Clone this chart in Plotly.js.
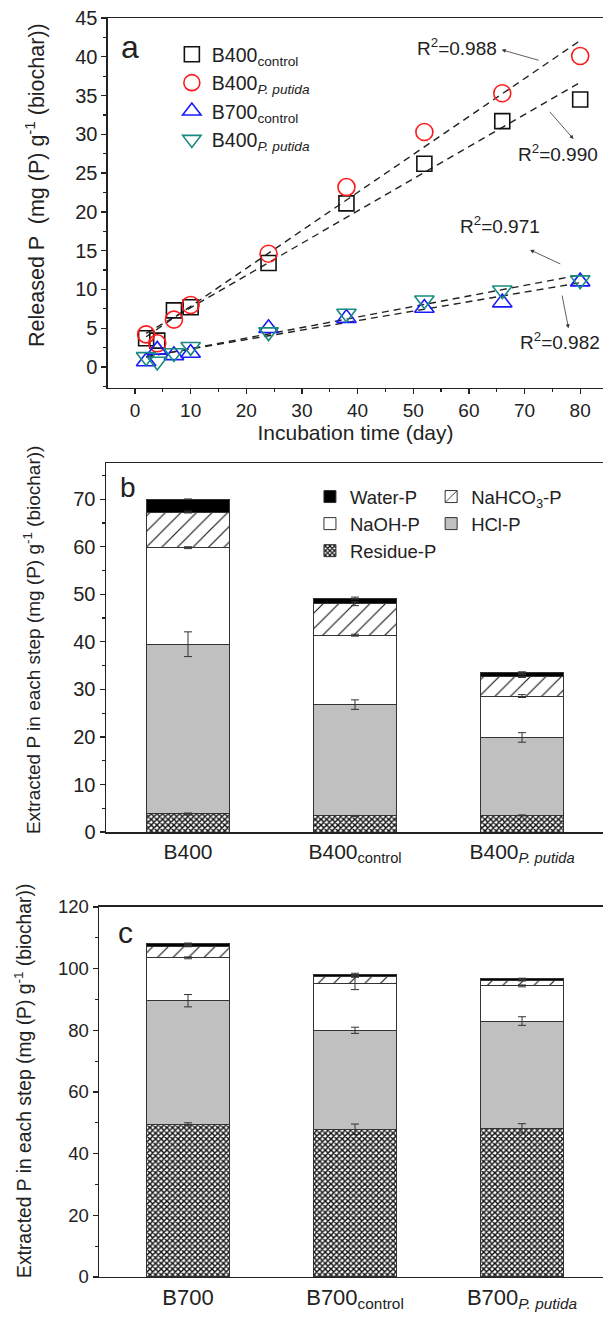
<!DOCTYPE html>
<html><head><meta charset="utf-8">
<script src="https://cdn.plot.ly/plotly-3.0.1.min.js"></script>
<style>html,body{margin:0;padding:0;background:#fff}</style>
</head><body><div id="chart" style="width:603px;height:1326px"></div>
<script>
// ---------- Panel a data ----------
const days = [2, 4, 7, 10, 24, 38, 52, 66, 80];
const b400Control = [3.7, 3.4, 7.3, 7.7, 13.4, 21.1, 26.2, 31.7, 34.5];
const b400Putida  = [4.2, 3.05, 6.1, 8.0, 14.6, 23.2, 30.3, 35.3, 40.1];
const b700Control = [0.7, 2.2, 1.5, 1.8, 5.0, 6.3, 7.6, 8.3, 11.0];
const b700Putida  = [1.3, 0.7, 1.8, 2.6, 4.5, 6.9, 8.6, 9.9, 11.2];
const seriesNames = ['B400<sub>control</sub>', 'B400<sub><i>P. putida</i></sub>',
                     'B700<sub>control</sub>', 'B400<sub><i>P. putida</i></sub>'];
const r2Labels = ['R<sup>2</sup>=0.988', 'R<sup>2</sup>=0.990', 'R<sup>2</sup>=0.971', 'R<sup>2</sup>=0.982'];

// ---------- Panel b data (segment sizes) ----------
const b400Cats = ['B400', 'B400<sub>control</sub>', 'B400<sub><i>P. putida</i></sub>'];
const fractionNames = ['Residue-P', 'HCl-P', 'NaOH-P', 'NaHCO<sub>3</sub>-P', 'Water-P'];
const b400Residue = [3.8, 3.4, 3.5];
const b400HCl     = [35.7, 23.4, 16.4];
const b400NaOH    = [20.3, 14.6, 8.7];
const b400NaHCO3  = [7.5, 6.6, 4.2];
const b400Water   = [2.7, 1.2, 0.7];
const b400ResidueErr = [0.2, 0.1, 0.1];
const b400HClErr     = [2.6, 1.0, 1.0];
const b400NaOHErr    = [0.2, 0.2, 0.3];
const b400NaHCO3Err  = [0.2, 0.4, 0.3];
const b400WaterErr   = [0.0, 0.2, 0.2];

// ---------- Panel c data (segment sizes) ----------
const b700Cats = ['B700', 'B700<sub>control</sub>', 'B700<sub><i>P. putida</i></sub>'];
const b700Residue = [49.6, 47.9, 48.2];
const b700HCl     = [40.0, 32.1, 34.8];
const b700NaOH    = [13.9, 15.3, 11.4];
const b700NaHCO3  = [3.8, 2.2, 1.8];
const b700Water   = [0.8, 0.7, 0.5];
const b700ResidueErr = [0.4, 1.7, 1.5];
const b700HClErr     = [2.0, 1.0, 1.4];
const b700NaOHErr    = [0.3, 2.1, 0.3];
const b700NaHCO3Err  = [0.2, 0.3, 0.2];
const b700WaterErr   = [0.2, 0.3, 0.2];

const yTitleA = 'Released P  (mg (P) g<sup>-1</sup> (biochar))';
const yTitleBC = 'Extracted P in each step (mg (P) g<sup>-1</sup> (biochar))';
const xTitleA = 'Incubation time (day)';

const FONT = '"Liberation Sans", Arial, Helvetica, sans-serif';
const INK = '#222';

const markerStyles = [
  {symbol: 'square-open', size: 15, color: '#111'},
  {symbol: 'circle-open', size: 17, color: '#ff1a1a'},
  {symbol: 'triangle-up-open', size: 17, color: '#1a1aff'},
  {symbol: 'triangle-down-open', size: 17, color: '#1a8a80'}
];
const fractionStyles = [
  {color: '#ffffff', pattern: {shape: 'x', size: 4, solidity: 0.6, fgcolor: '#111', bgcolor: '#ffffff'}},
  {color: '#c0c0c0'},
  {color: '#ffffff'},
  {color: '#ffffff', pattern: {shape: '/', size: 11, solidity: 0.1, fgcolor: '#111', bgcolor: '#ffffff'}},
  {color: '#000000'}
];

function linFit(xs, ys) {
  const n = xs.length;
  const mx = xs.reduce((a, b) => a + b, 0) / n;
  const my = ys.reduce((a, b) => a + b, 0) / n;
  let sxy = 0, sxx = 0;
  for (let i = 0; i < n; i++) { sxy += (xs[i] - mx) * (ys[i] - my); sxx += (xs[i] - mx) ** 2; }
  const k = sxy / sxx, b = my - k * mx;
  const x0 = Math.min(...xs), x1 = Math.max(...xs);
  return {x: [x0, x1], y: [k * x0 + b, k * x1 + b]};
}

const traces = [];
const seriesVals = [b400Control, b400Putida, b700Control, b700Putida];
seriesVals.forEach((ys) => {
  const f = linFit(days, ys);
  traces.push({type: 'scatter', mode: 'lines', x: f.x, y: f.y, xaxis: 'x', yaxis: 'y',
    line: {color: '#222', width: 1.4, dash: '7px,5px'}, showlegend: false, hoverinfo: 'skip'});
});
seriesVals.forEach((ys, i) => {
  const m = markerStyles[i];
  traces.push({type: 'scatter', mode: 'markers', x: days, y: ys, name: seriesNames[i],
    xaxis: 'x', yaxis: 'y', legend: 'legend',
    marker: {symbol: m.symbol, size: m.size, color: m.color, line: {width: 1.6, color: m.color}}});
});

function addStack(cats, parts, errs, xa, ya, showLeg) {
  parts.forEach((vals, i) => {
    const st = fractionStyles[i];
    const mk = {color: st.color, line: {color: '#333', width: 1}};
    if (st.pattern) mk.pattern = st.pattern;
    traces.push({type: 'bar', x: cats, y: vals, name: fractionNames[i], xaxis: xa, yaxis: ya,
      marker: mk, showlegend: showLeg,
      legend: (i === 1 || i === 3) ? 'legend3' : 'legend2'});
  });
  // error bars at the top of each stacked segment, drawn above all bars
  const cum = cats.map(() => 0);
  parts.forEach((vals, i) => {
    const tops = vals.map((v, j) => (cum[j] += v));
    traces.push({type: 'scatter', mode: 'markers', x: cats, y: tops, xaxis: xa, yaxis: ya,
      marker: {size: 1, opacity: 0}, showlegend: false, hoverinfo: 'skip',
      error_y: {type: 'data', array: errs[i], visible: true, color: '#333', thickness: 1, width: 4}});
  });
}
addStack(b400Cats, [b400Residue, b400HCl, b400NaOH, b400NaHCO3, b400Water],
  [b400ResidueErr, b400HClErr, b400NaOHErr, b400NaHCO3Err, b400WaterErr], 'x2', 'y2', true);
addStack(b700Cats, [b700Residue, b700HCl, b700NaOH, b700NaHCO3, b700Water],
  [b700ResidueErr, b700HClErr, b700NaOHErr, b700NaHCO3Err, b700WaterErr], 'x3', 'y3', false);

const axLine = {showline: true, linewidth: 1.5, linecolor: INK, showgrid: false, zeroline: false,
  ticks: 'outside', ticklen: 5, tickwidth: 1.3, tickcolor: INK, tickfont: {size: 20, color: INK}};
const minorT = (d) => ({dtick: d, ticklen: 3, ticks: 'outside', tickcolor: INK, tickwidth: 1.2});

const layout = {
  width: 603, height: 1326,
  margin: {l: 0, r: 0, t: 0, b: 0, autoexpand: false},
  paper_bgcolor: '#ffffff', plot_bgcolor: 'rgba(0,0,0,0)',
  font: {family: FONT, size: 19, color: INK},
  barmode: 'stack', bargap: 0.5,
  showlegend: true,
  xaxis: Object.assign({}, axLine, {domain: [0.1791, 1], anchor: 'y', range: [-4.85, 84.1],
    tick0: 0, dtick: 10, mirror: true, minor: minorT(5), tickfont: {size: 19, color: INK},
    title: {text: xTitleA, font: {size: 21}, standoff: 1}}),
  yaxis: Object.assign({}, axLine, {domain: [0.7074, 0.9864], anchor: 'x', range: [-2.71, 45],
    tick0: 0, dtick: 5, minor: minorT(2.5)}),
  xaxis2: Object.assign({}, axLine, {domain: [0.1758, 1], anchor: 'y2', type: 'category',
    range: [-0.491, 2.485], ticks: '', mirror: true, tickfont: {size: 21, color: INK}}),
  yaxis2: Object.assign({}, axLine, {domain: [0.3725, 0.6508], anchor: 'x2', range: [0, 77.6],
    tick0: 0, dtick: 10, minor: minorT(5)}),
  xaxis3: Object.assign({}, axLine, {domain: [0.1642, 1], anchor: 'y3', type: 'category',
    range: [-0.533, 2.485], ticks: '', mirror: true, tickfont: {size: 22, color: INK}}),
  yaxis3: Object.assign({}, axLine, {domain: [0.0370, 0.3160], anchor: 'x3', range: [0, 120],
    tick0: 0, dtick: 20, minor: minorT(10), tickfont: {size: 18.5, color: INK}}),
  legend: {x: 0.285, y: 0.9735, xanchor: 'left', yanchor: 'top', bgcolor: 'rgba(0,0,0,0)',
    font: {size: 19.5, color: INK}, itemsizing: 'trace', tracegroupgap: 0},
  legend2: {x: 0.514, y: 0.6395, xanchor: 'left', yanchor: 'top', bgcolor: 'rgba(0,0,0,0)',
    traceorder: 'reversed', font: {size: 18.5, color: INK}},
  legend3: {x: 0.715, y: 0.6395, xanchor: 'left', yanchor: 'top', bgcolor: 'rgba(0,0,0,0)',
    traceorder: 'reversed', font: {size: 18.5, color: INK}},
  annotations: [
    {xref: 'paper', yref: 'paper', x: 0.2156, y: 0.9646, xanchor: 'center', yanchor: 'middle', text: 'a', showarrow: false, font: {size: 32}},
    {xref: 'paper', yref: 'paper', x: 0.2123, y: 0.632, xanchor: 'center', yanchor: 'middle', text: 'b', showarrow: false, font: {size: 28}},
    {xref: 'paper', yref: 'paper', x: 0.2073, y: 0.2964, xanchor: 'center', yanchor: 'middle', text: 'c', showarrow: false, font: {size: 30}},
    {xref: 'paper', yref: 'paper', x: 0.058, y: 0.8605, xanchor: 'center', yanchor: 'middle', textangle: -90, text: yTitleA, showarrow: false, font: {size: 21.5}},
    {xref: 'paper', yref: 'paper', x: 0.0531, y: 0.5173, xanchor: 'center', yanchor: 'middle', textangle: -90, text: yTitleBC, showarrow: false, font: {size: 19}},
    {xref: 'paper', yref: 'paper', x: 0.0381, y: 0.1848, xanchor: 'center', yanchor: 'middle', textangle: -90, text: yTitleBC, showarrow: false, font: {size: 19.3}},
    {xref: 'x', yref: 'y', x: 57.8, y: 41.3, text: r2Labels[0], showarrow: false, font: {size: 19}},
    {xref: 'x', yref: 'y', x: 76.1, y: 27.6, text: r2Labels[1], showarrow: false, font: {size: 19}},
    {xref: 'x', yref: 'y', x: 65.6, y: 18.3, text: r2Labels[2], showarrow: false, font: {size: 19}},
    {xref: 'x', yref: 'y', x: 76.4, y: 3.3, text: r2Labels[3], showarrow: false, font: {size: 19}},
    {xref: 'x', yref: 'y', axref: 'x', ayref: 'y', x: 65.9, y: 40.9, ax: 72.8, ay: 39.5, text: '',
      showarrow: true, arrowhead: 2, arrowsize: 1, arrowwidth: 0.8, arrowcolor: '#333'},
    {xref: 'x', yref: 'y', axref: 'x', ayref: 'y', x: 78.8, y: 29.4, ax: 74.3, ay: 33.1, text: '',
      showarrow: true, arrowhead: 2, arrowsize: 1, arrowwidth: 0.8, arrowcolor: '#333'},
    {xref: 'x', yref: 'y', axref: 'x', ayref: 'y', x: 71.0, y: 15.1, ax: 76.7, ay: 13.2, text: '',
      showarrow: true, arrowhead: 2, arrowsize: 1, arrowwidth: 0.8, arrowcolor: '#333'},
    {xref: 'x', yref: 'y', axref: 'x', ayref: 'y', x: 77.9, y: 5.0, ax: 76.7, ay: 9.4, text: '',
      showarrow: true, arrowhead: 2, arrowsize: 1, arrowwidth: 0.8, arrowcolor: '#333'}
  ]
};

Plotly.newPlot('chart', traces, layout, {staticPlot: true, displayModeBar: false});
</script>
</body></html>
